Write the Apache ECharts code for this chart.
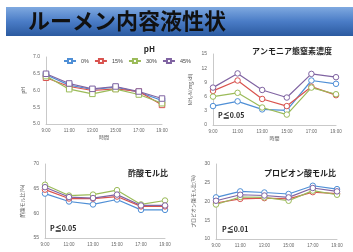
<!DOCTYPE html>
<html>
<head>
<meta charset="utf-8">
<script src="https://cdn.jsdelivr.net/npm/echarts@6/dist/echarts.min.js"></script>
<style>
  html, body { margin: 0; padding: 0; background: #fff; }
  #main { width: 353px; height: 252px; }
</style>
</head>
<body>
<div id="main"></div>
<script>
// time points (x axis)
const times = ['9:00', '11:00', '13:00', '15:00', '17:00', '19:00'];
const groups = ['0%', '15%', '30%', '45%'];
const colors = ['#4f8fd6', '#d9534f', '#9bbb59', '#8064a2'];

// pH
const ph0 = [6.47, 6.16, 6.03, 6.10, 5.95, 5.70];
const ph15 = [6.38, 6.12, 6.00, 6.05, 5.97, 5.57];
const ph30 = [6.43, 6.04, 5.90, 6.04, 5.88, 5.62];
const ph45 = [6.50, 6.21, 6.05, 6.12, 5.97, 5.76];

// ammonia nitrogen (mg/dl)
const nh0 = [4.0, 5.0, 3.3, 3.1, 9.4, 8.7];
const nh15 = [7.2, 9.4, 5.5, 4.0, 8.1, 6.3];
const nh30 = [6.0, 6.8, 3.7, 2.2, 7.9, 6.5];
const nh45 = [7.9, 10.9, 7.4, 5.8, 10.8, 10.1];

// acetic acid molar ratio (%)
const ac0 = [64.0, 62.4, 61.8, 62.8, 60.7, 60.7];
const ac15 = [64.8, 63.0, 63.0, 63.4, 61.4, 61.4];
const ac30 = [65.8, 63.6, 63.8, 64.7, 61.8, 62.6];
const ac45 = [65.3, 63.3, 63.1, 63.8, 61.6, 61.6];

// propionic acid molar ratio (%)
const pr0 = [21.1, 22.7, 22.4, 22.0, 24.2, 23.3];
const pr15 = [19.6, 20.7, 20.9, 20.7, 22.5, 22.1];
const pr30 = [19.2, 21.2, 21.1, 20.2, 22.9, 21.8];
const pr45 = [20.2, 21.8, 21.6, 21.1, 23.6, 22.7];

const jp = '"Noto Sans CJK JP", "Noto Sans", sans-serif';
const chart = echarts.init(document.getElementById('main'));

function xAx(i, showName) {
  return {
    type: 'category', gridIndex: i, data: times, boundaryGap: false,
    name: showName ? '時間' : '', nameLocation: 'middle', nameGap: 11,
    nameTextStyle: { fontSize: 5, color: '#555', fontFamily: jp },
    axisLine: { lineStyle: { color: '#bbb', width: 0.8 } },
    axisTick: { show: false },
    axisLabel: { fontSize: 4.5, color: '#666', margin: 4 }
  };
}
function yAx(i, min, max, interval, name, fmt) {
  return {
    type: 'value', gridIndex: i, min: min, max: max, interval: interval,
    name: name, nameLocation: 'middle', nameGap: 20,
    nameTextStyle: { fontSize: 5, color: '#555', fontFamily: jp },
    axisLine: { show: true, lineStyle: { color: '#bbb', width: 0.8 } },
    axisTick: { show: false },
    splitLine: { show: false },
    axisLabel: { fontSize: 5, color: '#666', margin: 6, formatter: fmt }
  };
}
function lines(i, sets, symbol) {
  return sets.map((d, k) => ({
    name: groups[k], type: 'line', xAxisIndex: i, yAxisIndex: i, data: d,
    symbol: symbol, symbolSize: 5.5, showSymbol: true,
    lineStyle: { color: colors[k], width: 1.2 },
    itemStyle: { color: '#fff', borderColor: colors[k], borderWidth: 1 },
    z: 3 + k
  }));
}

const option = {
  animation: false,
  backgroundColor: '#fff',
  graphic: [
    {
      type: 'rect', left: 6, top: 7, shape: { width: 347, height: 29 },
      style: {
        fill: new echarts.graphic.LinearGradient(0, 0, 0, 1, [
          { offset: 0, color: '#7fa9e0' },
          { offset: 0.5, color: '#4a7cc6' },
          { offset: 1, color: '#2b5aa0' }
        ])
      }
    },
    {
      type: 'text', left: 28, top: 10,
      style: { text: 'ルーメン内容液性状', fontSize: 22, fontWeight: 'bold', fill: '#111', fontFamily: jp }
    },
    { type: 'text', left: 218, top: 112, style: { text: 'P≦0.05', fontSize: 7, fontWeight: 'bold', fill: '#222', fontFamily: jp } },
    { type: 'text', left: 50, top: 225, style: { text: 'P≦0.05', fontSize: 7, fontWeight: 'bold', fill: '#222', fontFamily: jp } },
    { type: 'text', left: 222, top: 226, style: { text: 'P≦0.01', fontSize: 7, fontWeight: 'bold', fill: '#222', fontFamily: jp } }
  ],
  title: [
    { text: 'pH', right: 193, top: 40, textStyle: { fontSize: 8, fontWeight: 'bold', color: '#222', fontFamily: jp } },
    { text: 'アンモニア態窒素濃度', right: 16, top: 42, textStyle: { fontSize: 8, fontWeight: 'bold', color: '#222', fontFamily: jp } },
    { text: '酢酸モル比', right: 180, top: 164, textStyle: { fontSize: 8, fontWeight: 'bold', color: '#222', fontFamily: jp } },
    { text: 'プロピオン酸モル比', right: 12, top: 164, textStyle: { fontSize: 8, fontWeight: 'bold', color: '#222', fontFamily: jp } }
  ],
  legend: {
    data: groups, left: 58, top: 53, itemWidth: 12, itemHeight: 5, itemGap: 5,
    textStyle: { fontSize: 5.5, color: '#444' }
  },
  grid: [
    { left: 46, right: 191, top: 57, bottom: 128 },
    { left: 213, right: 17, top: 54, bottom: 127 },
    { left: 45, right: 188, top: 164, bottom: 14 },
    { left: 216, right: 16, top: 164, bottom: 13 }
  ],
  xAxis: [xAx(0, true), xAx(1, true), xAx(2, false), xAx(3, false)],
  yAxis: [
    yAx(0, 5, 7, 0.5, 'pH', v => v.toFixed(1)),
    yAx(1, 0, 15, 3, 'NH₃-N(mg/dl)'),
    yAx(2, 55, 70, 5, '酢酸モル比(%)'),
    yAx(3, 10, 30, 5, 'プロピオン酸モル比(%)')
  ],
  series: [].concat(
    lines(0, [ph0, ph15, ph30, ph45], 'rect'),
    lines(1, [nh0, nh15, nh30, nh45], 'circle'),
    lines(2, [ac0, ac15, ac30, ac45], 'circle'),
    lines(3, [pr0, pr15, pr30, pr45], 'circle')
  )
};
chart.setOption(option);
</script>
</body>
</html>
